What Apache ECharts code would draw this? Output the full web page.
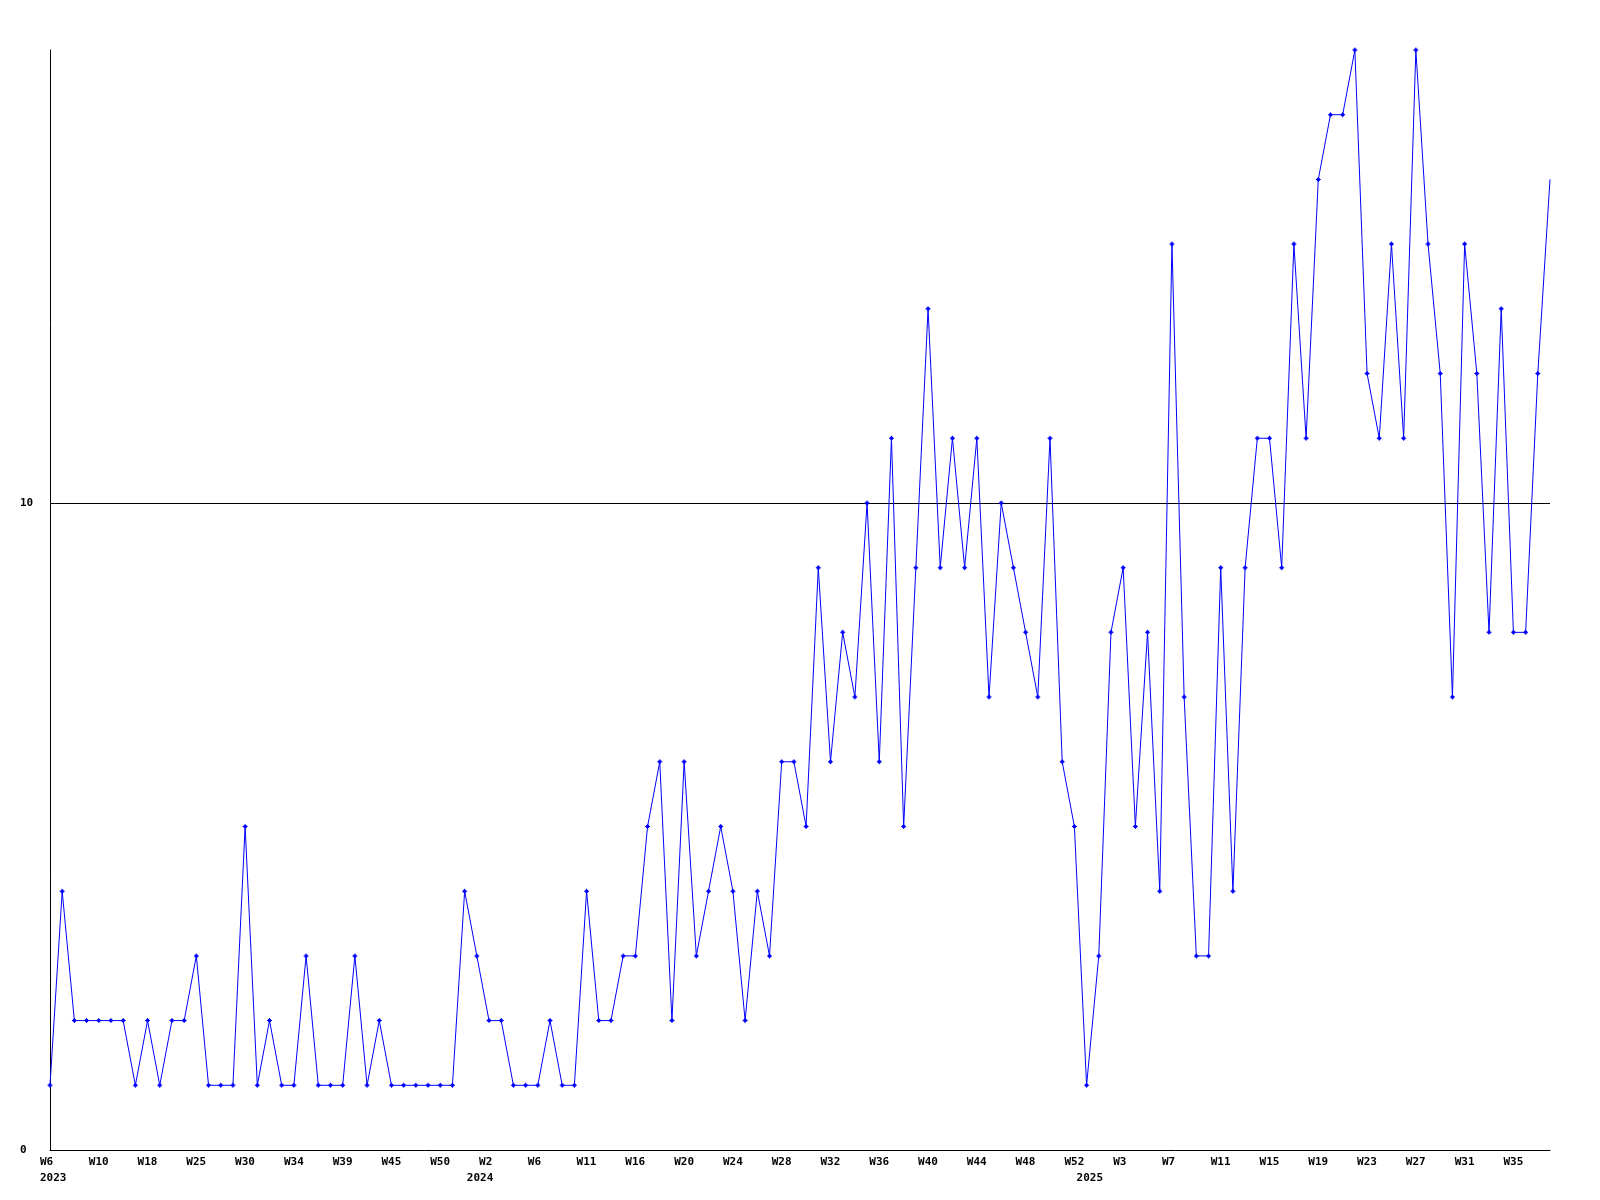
<!DOCTYPE html>
<html>
<head>
<meta charset="utf-8">
<script src="https://cdn.jsdelivr.net/npm/echarts@6/dist/echarts.min.js"></script>
<style>
  html, body { margin: 0; padding: 0; background: #fff; }
  #chart { width: 1600px; height: 1200px; }
</style>
</head>
<body>
<div id="chart"></div>
<script>
// Week label for each data point (categories)
const weekLabels = [
  // 2023
  'W6','W7','W8','W9','W10','W12','W14','W16','W18','W20','W22','W23','W25','W26','W27','W29','W30','W31','W32','W33','W34','W35','W37','W38','W39','W41','W42','W44','W45','W46','W47','W49','W50','W51','W52',
  // 2024
  'W1','W2','W3','W4','W5','W6','W7','W8','W10','W11','W12','W13','W15','W16','W17','W18','W19','W20','W21','W22','W23','W24','W25','W26','W27','W28','W29','W30','W31','W32','W33','W34','W35','W36','W37','W38','W39','W40','W41','W42','W43','W44','W45','W46','W47','W48','W49','W50','W51','W52',
  // 2025
  'W0','W1','W2','W3','W4','W5','W6','W7','W8','W9','W10','W11','W12','W13','W14','W15','W16','W17','W18','W19','W20','W21','W22','W23','W24','W25','W26','W27','W28','W29','W30','W31','W32','W33','W34','W35','W36','W37','W38'
];
// Index of the first point of each year and the year name
const yearStartIndex = [0, 35, 85];
const yearNames = ['2023', '2024', '2025'];

// Series values
const values = [
  1,4,2,2,2,2,2,1,2,1,2,2,3,1,1,1,5,1,2,1,1,3,1,1,1,3,1,2,1,1,1,1,1,1,
  4,3,2,2,1,1,1,2,1,1,4,2,2,3,3,5,6,2,6,3,4,5,4,2,4,3,6,6,5,9,6,8,7,10,6,11,5,9,13,9,11,9,11,7,10,9,8,7,11,6,5,
  1,3,8,9,5,8,4,14,7,3,3,9,4,9,11,11,9,14,11,15,16,16,17,12,11,14,11,17,14,12,7,14,12,8,13,8,8,12,15
];

// Y axis range and tick step
const yMin = 0, yMax = 17, yStep = 10;

const fontFamily = "'DejaVu Sans Mono', 'Liberation Mono', monospace";
const labelFont = { fontFamily: fontFamily, fontSize: 11, fontWeight: 'bold', color: '#000' };

const chart = echarts.init(document.getElementById('chart'), null, { renderer: 'canvas' });
chart.setOption({
  animation: false,
  backgroundColor: '#fff',
  grid: [
    { left: 50, right: 50, top: 50, bottom: 50 },
    { left: 40, right: 60, top: 50, bottom: 50 }
  ],
  xAxis: [
    {
      gridIndex: 0, type: 'category', data: weekLabels, boundaryGap: false,
      axisLine: { show: true, lineStyle: { color: '#000', width: 1 } },
      axisTick: { show: false }, axisLabel: { show: false }, splitLine: { show: false }
    },
    {
      gridIndex: 1, type: 'category', data: weekLabels, boundaryGap: false,
      axisLine: { show: false }, axisTick: { show: false }, splitLine: { show: false },
      axisLabel: Object.assign({ interval: 3, align: 'left', margin: 7 }, labelFont)
    },
    {
      gridIndex: 1, type: 'category', data: weekLabels, boundaryGap: false, position: 'bottom', offset: 16,
      axisLine: { show: false }, axisTick: { show: false }, splitLine: { show: false },
      axisLabel: Object.assign({
        align: 'left', margin: 7,
        interval: function (i) { return yearStartIndex.indexOf(i) >= 0; },
        formatter: function (v, i) { const k = yearStartIndex.indexOf(i); return k >= 0 ? yearNames[k] : ''; }
      }, labelFont)
    }
  ],
  yAxis: [
    {
      gridIndex: 0, type: 'value', min: yMin, max: yMax, interval: yStep,
      axisLine: { show: true, lineStyle: { color: '#000', width: 1 } },
      axisTick: { show: false },
      splitLine: { show: true, showMinLine: false, showMaxLine: false, lineStyle: { color: '#000', width: 1 } },
      axisLabel: Object.assign({ align: 'left', margin: 30, showMaxLabel: false }, labelFont)
    },
    {
      gridIndex: 1, type: 'value', min: 0, max: 1, show: false
    }
  ],
  series: [
    {
      type: 'line', xAxisIndex: 0, yAxisIndex: 0, data: values,
      color: '#0000ff',
      lineStyle: { color: '#0000ff', width: 1 },
      itemStyle: { color: '#0000ff' },
      symbol: 'path://M2,0H3V1H4V2H5V3H4V4H3V5H2V4H1V3H0V2H1V1H2Z',
      symbolSize: function (v, p) { return p.dataIndex === values.length - 1 ? 0 : 5; },
      showAllSymbol: true,
      emphasis: { disabled: true }
    }
  ]
});
</script>
</body>
</html>
